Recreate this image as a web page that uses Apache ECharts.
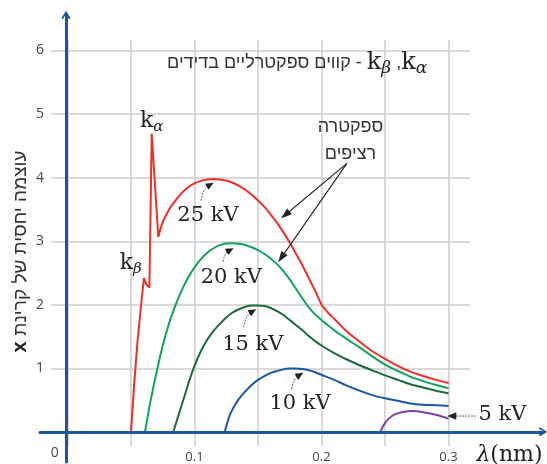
<!DOCTYPE html>
<html><head><meta charset="utf-8">
<script src="https://cdn.jsdelivr.net/npm/echarts@6/dist/echarts.min.js"></script>
<style>html,body{margin:0;padding:0;background:#fff}#c{width:547px;height:464px}</style>
</head><body><div id="c"></div>
<script>
// ---- data (λ in nm, relative intensity) ----
const xTickLabels = [0.1, 0.2, 0.3];
const yTickLabels = [1, 2, 3, 4, 5, 6];
const red25Rise = [[0.0500,0],[0.0525,0.75],[0.0550,1.40],[0.0577,1.95],[0.0602,2.42],[0.0618,2.33],[0.0629,2.36],[0.0645,2.27],[0.0663,4.69],[0.0715,3.07]];
const red25A = [[0.0715,3.07],[0.0750,3.30],[0.0800,3.50],[0.0850,3.64],[0.0900,3.76],[0.0950,3.85],[0.1000,3.91],[0.1050,3.95],[0.1100,3.97],[0.1150,3.98],[0.1200,3.97],[0.1250,3.955],[0.1300,3.92],[0.1350,3.87],[0.1400,3.81],[0.1450,3.73],[0.1500,3.64],[0.1550,3.54],[0.1600,3.42],[0.1650,3.29],[0.1700,3.14],[0.1750,2.98],[0.1800,2.80],[0.1850,2.62],[0.1900,2.42],[0.1950,2.22],[0.2000,2.00]];
const red25B = [[0.2000,2.00],[0.2050,1.88],[0.2100,1.78],[0.2200,1.58],[0.2300,1.42],[0.2400,1.27],[0.2500,1.15],[0.2600,1.04],[0.2700,0.95],[0.2800,0.88],[0.2900,0.82],[0.3000,0.77]];
const green20 = [[0.0610,0],[0.0650,0.45],[0.0700,0.93],[0.0750,1.36],[0.0800,1.71],[0.0850,1.99],[0.0900,2.23],[0.0950,2.43],[0.1000,2.59],[0.1050,2.72],[0.1100,2.82],[0.1150,2.89],[0.1200,2.94],[0.1250,2.965],[0.1300,2.97],[0.1350,2.96],[0.1400,2.94],[0.1450,2.905],[0.1500,2.86],[0.1550,2.80],[0.1600,2.73],[0.1650,2.64],[0.1700,2.53],[0.1750,2.40],[0.1800,2.25],[0.1850,2.10],[0.1900,1.96],[0.1950,1.85],[0.2000,1.76],[0.2050,1.68],[0.2100,1.60],[0.2150,1.53],[0.2200,1.46],[0.2300,1.33],[0.2400,1.19],[0.2500,1.06],[0.2600,0.96],[0.2700,0.87],[0.2800,0.80],[0.2900,0.74],[0.3000,0.69]];
const dkgreen15 = [[0.0833,0],[0.0875,0.27],[0.0916,0.53],[0.0958,0.80],[0.1000,1.04],[0.1050,1.27],[0.1100,1.45],[0.1150,1.59],[0.1200,1.70],[0.1250,1.80],[0.1300,1.88],[0.1350,1.93],[0.1400,1.97],[0.1450,1.99],[0.1500,1.99],[0.1550,1.98],[0.1600,1.95],[0.1650,1.90],[0.1700,1.84],[0.1750,1.76],[0.1800,1.68],[0.1850,1.60],[0.1900,1.51],[0.1950,1.43],[0.2000,1.36],[0.2100,1.24],[0.2200,1.14],[0.2300,1.05],[0.2400,0.97],[0.2500,0.89],[0.2600,0.82],[0.2700,0.75],[0.2800,0.70],[0.2900,0.65],[0.3000,0.61]];
const blue10 = [[0.1238,0],[0.1270,0.22],[0.1300,0.36],[0.1350,0.52],[0.1400,0.64],[0.1450,0.74],[0.1500,0.82],[0.1550,0.88],[0.1600,0.93],[0.1650,0.96],[0.1700,0.985],[0.1750,0.997],[0.1800,1.00],[0.1850,0.99],[0.1900,0.97],[0.1950,0.94],[0.2000,0.90],[0.2100,0.82],[0.2200,0.73],[0.2300,0.65],[0.2400,0.58],[0.2500,0.53],[0.2600,0.49],[0.2700,0.45],[0.2800,0.43],[0.2900,0.42],[0.3000,0.41]];
const purple5 = [[0.2463,0],[0.2490,0.11],[0.2530,0.21],[0.2580,0.28],[0.2650,0.32],[0.2720,0.33],[0.2800,0.31],[0.2900,0.27],[0.3000,0.21]];

// annotation anchors in data coordinates
const kvLabels = [
  {text:'25 kV', at:[0.1106,3.41], from:[0.1051,3.64], to:[0.1151,3.92]},
  {text:'20 kV', at:[0.1290,2.43], from:[0.1225,2.68], to:[0.1308,2.89]},
  {text:'15 kV', at:[0.1459,1.37], from:[0.1387,1.65], to:[0.1486,1.93]},
  {text:'10 kV', at:[0.1831,0.455], from:[0.1766,0.675], to:[0.1857,0.93]}
];
const label5 = {text:'5 kV', at:[0.3424,0.267], from:[0.3215,0.251], to:[0.2990,0.251]};
const spectrumText = {at:[0.2228,4.59], from:[0.2200,4.225], to:[[0.1682,3.36],[0.1659,2.67]]};
const kAlpha = [0.0663,4.885], kBeta = [0.0498,2.654];
const titlePos = [0.1808,5.80];
const yNamePos = [-0.037,2.84];
const zeroPos = [-0.010,-0.33];
const lambdaPos = [0.348,-0.36];

const RED='#ee2f26', GREEN='#12a25c', DKGREEN='#1b6a38', BLUE='#1a57a3', PURPLE='#7b3fa6', AXIS='#1d5799', GRID='#cdcdcd';
const HEB = "'Liberation Sans','DejaVu Sans',sans-serif";
const SERIF = "'DejaVu Serif',serif";

const chart = echarts.init(document.getElementById('c'), null, {renderer:'canvas'});
const chevron = 'path://M5,0 L10,8 L8.4,9.4 L5,3.4 L1.6,9.4 L0,8 Z';
function ser(data, color, smooth){
  return {type:'line', xAxisIndex:1, yAxisIndex:1, data, smooth, symbol:'none', silent:true,
    lineStyle:{color, width:2}, z:3};
}
chart.setOption({
  animation:false,
  grid:[
    {left:67.5, top:40, width:381, height:407},
    {left:67.5, top:50.5, width:381, height:381.5},
    {left:51, top:50.5, width:419, height:381.5},
    {left:40, top:15, width:503, height:447}
  ],
  xAxis:[
    {gridIndex:0, type:'value', min:0, max:0.3, interval:0.05,
      axisLine:{show:false}, axisTick:{show:false},
      splitLine:{show:true, lineStyle:{color:GRID, width:1.5}},
      axisLabel:{margin:5, color:'#444', fontSize:13, fontFamily:"'Open Sans',sans-serif",
        formatter:v=>xTickLabels.some(t=>Math.abs(t-v)<1e-9)?v.toFixed(1):''}},
    {gridIndex:1, type:'value', min:0, max:0.3, show:false},
    {gridIndex:2, type:'value', min:0, max:1, show:false},
    {gridIndex:3, type:'value', min:-26, max:477, z:10,
      axisLine:{show:true, onZero:true, symbol:['none', chevron], symbolSize:[9,10], lineStyle:{color:AXIS, width:3}},
      axisTick:{show:false}, axisLabel:{show:false}, splitLine:{show:false}}
  ],
  yAxis:[
    {gridIndex:0, type:'value', min:0, max:1, show:false},
    {gridIndex:1, type:'value', min:0, max:6, show:false},
    {gridIndex:2, type:'value', min:0, max:6, interval:1,
      axisLine:{show:false}, axisTick:{show:false},
      splitLine:{show:true, lineStyle:{color:GRID, width:1.5}},
      axisLabel:{margin:7, color:'#444', fontSize:14, fontFamily:"'Open Sans',sans-serif",
        formatter:v=>yTickLabels.includes(v)?String(v):''}},
    {gridIndex:3, type:'value', min:-30, max:414, z:10,
      axisLine:{show:true, onZero:true, symbol:['none', chevron], symbolSize:[9,10], lineStyle:{color:AXIS, width:3}},
      axisTick:{show:false}, axisLabel:{show:false}, splitLine:{show:false}}
  ],
  series:[
    ser(red25Rise, RED, false),
    ser(red25A, RED, 0.3),
    ser(red25B, RED, 0.3),
    ser(green20, GREEN, 0.3),
    ser(dkgreen15, DKGREEN, 0.3),
    ser(blue10, BLUE, 0.3),
    ser(purple5, PURPLE, 0.3)
  ]
});

function P(pt){ return chart.convertToPixel({gridIndex:1}, pt); }
function head(tip, from, len, hw, color){
  const dx=tip[0]-from[0], dy=tip[1]-from[1], d=Math.hypot(dx,dy)||1;
  const ux=dx/d, uy=dy/d, bx=tip[0]-ux*len, by=tip[1]-uy*len;
  return {type:'polygon', z:20, shape:{points:[[tip[0],tip[1]],[bx-uy*hw,by+ux*hw],[bx+uy*hw,by-ux*hw]]}, style:{fill:color}};
}
const g=[];
const kSub = {
  k:{fontFamily:SERIF, fontSize:22, fill:'#222', lineHeight:26},
  s:{fontFamily:SERIF, fontStyle:'italic', fontSize:15, fill:'#222', lineHeight:13, verticalAlign:'bottom'}
};
const titleRich = {
  k:{fontFamily:SERIF, fontSize:24, fill:'#222', lineHeight:28},
  s:{fontFamily:SERIF, fontStyle:'italic', fontSize:17, fill:'#222', lineHeight:14, verticalAlign:'bottom'},
  h:{fontFamily:HEB, fontSize:18, fill:'#333', lineHeight:28},
  p:{fontFamily:HEB, fontSize:18, fill:'#333', lineHeight:28}
};
kvLabels.forEach(l=>{
  const a=P(l.at), f=P(l.from), t=P(l.to);
  g.push({type:'text', x:a[0], y:a[1], z:20, style:{text:l.text, fontFamily:SERIF, fontSize:21, fill:'#222', align:'center', verticalAlign:'middle'}});
  const cp=[f[0]+0.15*(t[0]-f[0]), f[1]+0.65*(t[1]-f[1])];
  const dx=t[0]-cp[0], dy=t[1]-cp[1], d=Math.hypot(dx,dy);
  const end=[t[0]-dx/d*6, t[1]-dy/d*6];
  g.push({type:'bezierCurve', z:20, shape:{x1:f[0],y1:f[1],x2:end[0],y2:end[1],cpx1:cp[0],cpy1:cp[1]}, style:{stroke:'#333', lineWidth:1, lineDash:[1.5,1.5], fill:null}});
  g.push(head(t, cp, 8, 3.5, '#222'));
});
{
  const a=P(label5.at), f=P(label5.from), t=P(label5.to);
  g.push({type:'text', x:a[0], y:a[1], z:20, style:{text:label5.text, fontFamily:SERIF, fontSize:21, fill:'#222', align:'center', verticalAlign:'middle'}});
  g.push({type:'line', z:20, shape:{x1:f[0],y1:f[1],x2:t[0]+7,y2:t[1]}, style:{stroke:'#333', lineWidth:1, lineDash:[1.5,1.5]}});
  g.push(head(t, f, 9, 3.8, '#222'));
}
{
  const a=P(spectrumText.at), f=P(spectrumText.from);
  g.push({type:'text', x:a[0], y:a[1], z:20, style:{text:'ספקטרה\nרציפים', fontFamily:HEB, fontSize:18, lineHeight:27, fill:'#333', align:'center', verticalAlign:'middle'}});
  spectrumText.to.forEach(p=>{
    const t=P(p); const dx=t[0]-f[0], dy=t[1]-f[1], d=Math.hypot(dx,dy);
    g.push({type:'line', z:20, shape:{x1:f[0],y1:f[1],x2:t[0]-dx/d*8,y2:t[1]-dy/d*8}, style:{stroke:'#222', lineWidth:1.1}});
    g.push(head(t, f, 11, 3.8, '#222'));
  });
}
{
  const a=P(kAlpha), b=P(kBeta);
  g.push({type:'text', x:a[0], y:a[1], z:20, style:{text:'{k|k}{s|α}', align:'center', verticalAlign:'middle', rich:kSub}});
  g.push({type:'text', x:b[0], y:b[1], z:20, style:{text:'{k|k}{s|β}', align:'center', verticalAlign:'middle', rich:kSub}});
  const tp=P(titlePos);
  g.push({type:'text', x:tp[0], y:tp[1], z:20, style:{text:'{h|קווים ספקטרליים בדידים}{p| - }{k|k}{s|β}{p| ,}{k|k}{s|α}', align:'center', verticalAlign:'middle', rich:titleRich}});
  const yn=P(yNamePos);
  g.push({type:'text', x:yn[0], y:yn[1], rotation:Math.PI/2, z:20, style:{text:'{x|x }{h|עוצמה יחסית של קרינת}', align:'center', verticalAlign:'middle',
    rich:{x:{fontFamily:HEB, fontSize:20, fill:'#222', fontWeight:'bold'}, h:{fontFamily:HEB, fontSize:19, fill:'#333'}}}});
  const z0=P(zeroPos);
  g.push({type:'text', x:z0[0], y:z0[1], z:20, style:{text:'0', fontFamily:"'Open Sans',sans-serif", fontSize:14, fill:'#444', align:'center', verticalAlign:'middle'}});
  const lp=P(lambdaPos);
  g.push({type:'text', x:lp[0], y:lp[1], z:20, style:{text:'{l|λ}{n|(nm)}', align:'center', verticalAlign:'middle',
    rich:{l:{fontFamily:SERIF, fontStyle:'italic', fontSize:22, fill:'#222'}, n:{fontFamily:SERIF, fontSize:22, fill:'#222'}}}});
}
chart.setOption({graphic:g});
</script></body></html>
